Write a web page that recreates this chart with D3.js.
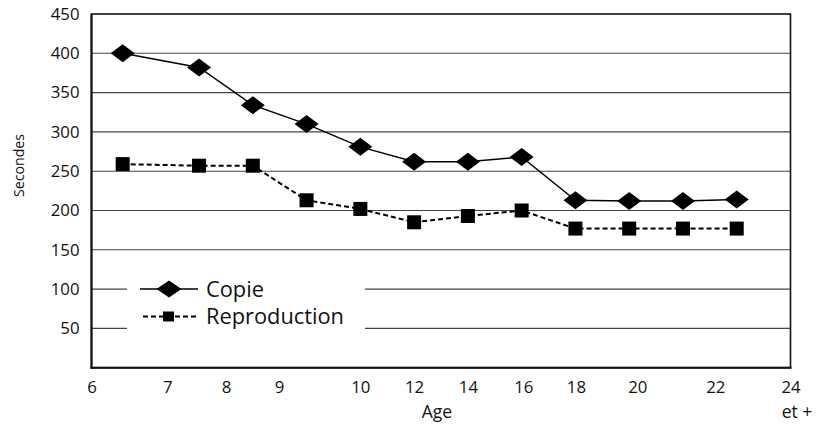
<!DOCTYPE html>
<html>
<head>
<meta charset="utf-8">
<script src="https://cdn.jsdelivr.net/npm/d3@7"></script>
<style>
  html, body { margin: 0; padding: 0; background: #fff; }
  svg { display: block; font-family: "Open Sans", "DejaVu Sans", sans-serif; }
</style>
</head>
<body>
<svg id="chart" width="819" height="428"></svg>
<script>
// ---- data ----
const seriesNames = ["Copie", "Reproduction"];
const xPositions = [0.58, 2, 3, 4, 5, 6, 7, 8, 9, 10, 11, 12];
const copieValues = [400, 382, 334, 310, 281, 262, 262, 268, 213, 212, 212, 214];
const reproductionValues = [259, 257, 257, 213, 202, 185, 193, 200, 177, 177, 177, 177];
const xTickPositions = [0, 1.41, 2.5, 3.49, 5, 6, 7, 8.03, 9.01, 10.15, 11.6, 13];
const xTickLabels = ["6", "7", "8", "9", "10", "12", "14", "16", "18", "20", "22", "24"];
const yTickValues = [50, 100, 150, 200, 250, 300, 350, 400, 450];
const xTitle = "Age";
const xExtra = "et +";
const yTitle = "Secondes";

// ---- layout ----
const pLeft = 91.5, pRight = 790.5, pTop = 14, pBottom = 367.7;
const svg = d3.select("#chart");

const x = d3.scaleLinear().domain([0, 13]).range([pLeft, pRight]);
const y = d3.scaleLinear().domain([0, 450]).range([pBottom, pTop]);

// gridlines
svg.append("g")
  .selectAll("line")
  .data(yTickValues.filter(v => v < 450))
  .join("line")
  .attr("x1", pLeft).attr("x2", pRight)
  .attr("y1", d => y(d)).attr("y2", d => y(d))
  .attr("stroke", "#444").attr("stroke-width", 1.1);

// y axis labels
const yAxis = d3.axisLeft(y).tickValues(yTickValues).tickSize(0).tickPadding(12);
const gy = svg.append("g").attr("transform", `translate(${pLeft},0)`).call(yAxis);
gy.select(".domain").remove();
gy.selectAll("text").attr("font-size", 16.8).attr("fill", "#111")
  .attr("font-family", "'Open Sans', sans-serif");

// x axis labels
const xAxis = d3.axisBottom(x).tickValues(xTickPositions)
  .tickFormat((d, i) => xTickLabels[i]).tickSize(0).tickPadding(13);
const gx = svg.append("g").attr("transform", `translate(0,${pBottom})`).call(xAxis);
gx.select(".domain").remove();
gx.selectAll("text").attr("font-size", 16.8).attr("fill", "#111")
  .attr("font-family", "'Open Sans', sans-serif");

// frame
svg.append("rect")
  .attr("x", pLeft).attr("y", pTop)
  .attr("width", pRight - pLeft).attr("height", pBottom - pTop)
  .attr("fill", "none").attr("stroke", "#111").attr("stroke-width", 1.6);
svg.append("line").attr("x1", pLeft).attr("x2", pLeft).attr("y1", pTop).attr("y2", pBottom + 1)
  .attr("stroke", "#111").attr("stroke-width", 2);
svg.append("line").attr("x1", pLeft - 1).attr("x2", pRight + 1).attr("y1", pBottom).attr("y2", pBottom)
  .attr("stroke", "#111").attr("stroke-width", 2);

// titles
svg.append("text").attr("x", 437).attr("y", 418)
  .attr("text-anchor", "middle").attr("font-size", 17.5).attr("fill", "#111").text(xTitle);
svg.append("text").attr("x", 797).attr("y", 418)
  .attr("text-anchor", "middle").attr("font-size", 17.5).attr("fill", "#111").text(xExtra);
svg.append("text")
  .attr("transform", "translate(24,165.5) rotate(-90)")
  .attr("text-anchor", "middle").attr("font-size", 14.2).attr("fill", "#111").text(yTitle);

// marker helpers
const diamond = (w, h) => `M0,${-h} L${w},0 L0,${h} L${-w},0 Z`;

// series
const copieData = xPositions.map((p, i) => ({ p, v: copieValues[i] }));
const reproData = xPositions.map((p, i) => ({ p, v: reproductionValues[i] }));
const line = d3.line().x(d => x(d.p)).y(d => y(d.v));

svg.append("path").datum(reproData).attr("d", line)
  .attr("fill", "none").attr("stroke", "#000").attr("stroke-width", 2)
  .attr("stroke-dasharray", "5,3");
svg.append("path").datum(copieData).attr("d", line)
  .attr("fill", "none").attr("stroke", "#000").attr("stroke-width", 1.4);

svg.append("g").selectAll("rect").data(reproData).join("rect")
  .attr("x", d => x(d.p) - 7).attr("y", d => y(d.v) - 7)
  .attr("width", 14).attr("height", 14).attr("fill", "#000");
svg.append("g").selectAll("path").data(copieData).join("path")
  .attr("transform", d => `translate(${x(d.p)},${y(d.v)})`)
  .attr("d", diamond(12, 9)).attr("fill", "#000");

// legend
const lg = svg.append("g");
lg.append("rect").attr("x", 127).attr("y", 262).attr("width", 238).attr("height", 80).attr("fill", "#fff");
const ly = [289, 316.5];
lg.append("line").attr("x1", 140).attr("x2", 198).attr("y1", ly[0]).attr("y2", ly[0])
  .attr("stroke", "#000").attr("stroke-width", 1.4);
lg.append("path").attr("transform", `translate(169,${ly[0]})`).attr("d", diamond(12.5, 8.5)).attr("fill", "#000");
lg.append("line").attr("x1", 143).attr("x2", 198).attr("y1", ly[1]).attr("y2", ly[1])
  .attr("stroke", "#000").attr("stroke-width", 2).attr("stroke-dasharray", "5,3");
lg.append("rect").attr("x", 163).attr("y", ly[1] - 5).attr("width", 11).attr("height", 10).attr("fill", "#000");
seriesNames.forEach((n, i) => {
  lg.append("text").attr("x", 206).attr("y", ly[i]).attr("dy", "0.36em")
    .attr("font-size", 21.8).attr("fill", "#111").text(n);
});
</script>
</body>
</html>
